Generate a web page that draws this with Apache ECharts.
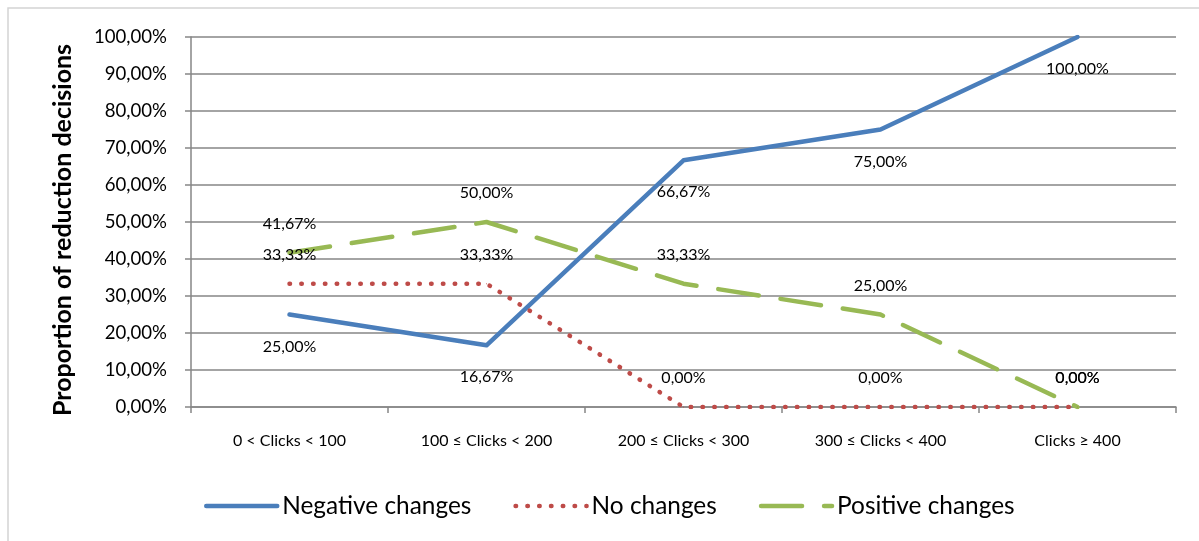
<!DOCTYPE html>
<html>
<head>
<meta charset="utf-8">
<script src="https://cdn.jsdelivr.net/npm/echarts@6/dist/echarts.min.js"></script>
<style>
  html, body { margin: 0; padding: 0; background: #fff; }
  #chart { width: 1199px; height: 541px; }
</style>
</head>
<body>
<div id="chart"></div>
<script>
// Click-range buckets
const categories = ['0 < Clicks < 100', '100 ≤ Clicks < 200', '200 ≤ Clicks < 300', '300 ≤ Clicks < 400', 'Clicks ≥ 400'];

// Share of reduction decisions per bucket (fractions)
const negativeChanges = [0.25, 0.1667, 0.6667, 0.75, 1.0];
const noChanges = [0.3333, 0.3333, 0.0, 0.0, 0.0];
const positiveChanges = [0.4167, 0.50, 0.3333, 0.25, 0.0];

const seriesNames = ['Negative changes', 'No changes', 'Positive changes'];
const axisTitle = 'Proportion of reduction decisions';

const FONT = 'Lato, Carlito, Calibri, sans-serif';
const fmtPct = v => (v * 100).toFixed(2).replace('.', ',') + '%';

const chart = echarts.init(document.getElementById('chart'), null, { renderer: 'canvas' });

function lineSeries(name, data, color, dash, labelDy) {
  return {
    name: name,
    type: 'line',
    data: data,
    symbol: 'circle',
    symbolSize: 1,
    showSymbol: true,
    itemStyle: { color: color },
    lineStyle: { color: color, width: 4.5, type: dash, cap: 'round', join: 'round' },
    emphasis: { disabled: true },
    label: {
      show: true,
      position: 'inside',
      offset: [0, labelDy],
      formatter: p => fmtPct(p.value),
      color: '#000',
      fontFamily: FONT,
      fontSize: 16
    },
    z: 3
  };
}

chart.setOption({
  animation: false,
  backgroundColor: '#fff',
  graphic: [{
    type: 'rect',
    shape: { x: 8, y: 8, width: 1200, height: 560 },
    style: { fill: 'none', stroke: '#d4d4d4', lineWidth: 1.5 },
    silent: true,
    z: -1
  }],
  grid: { left: 191, right: 23, top: 37, bottom: 134, containLabel: false },
  legend: {
    left: 204,
    top: 494,
    padding: 0,
    itemWidth: 71,
    itemHeight: 26,
    itemGap: 42,
    data: seriesNames,
    itemStyle: { color: 'transparent', borderColor: 'transparent', borderWidth: 0 },
    lineStyle: { width: 4.5, cap: 'round' },
    textStyle: { fontFamily: FONT, fontSize: 24.4, color: '#000' },
    selectedMode: false
  },
  xAxis: {
    type: 'category',
    data: categories,
    boundaryGap: true,
    axisLine: { lineStyle: { color: '#868686', width: 1.5 } },
    axisTick: { show: true, length: 6, alignWithLabel: false, lineStyle: { color: '#868686', width: 1.5 } },
    axisLabel: { interval: 0, margin: 26, color: '#000', fontFamily: FONT, fontSize: 16 },
    splitLine: { show: false }
  },
  yAxis: {
    type: 'value',
    min: 0,
    max: 1,
    interval: 0.1,
    name: axisTitle,
    nameLocation: 'middle',
    nameGap: 116,
    nameRotate: 90,
    nameTextStyle: { fontFamily: FONT, fontWeight: 'bold', fontSize: 25, color: '#000', padding: [0, 16, 0, 0] },
    axisLine: { show: true, lineStyle: { color: '#868686', width: 1.5 } },
    axisTick: { show: true, length: 6, lineStyle: { color: '#868686', width: 1.5 } },
    axisLabel: { margin: 24, color: '#000', fontFamily: FONT, fontSize: 18.6, formatter: fmtPct },
    splitLine: { show: true, lineStyle: { color: '#868686', width: 1.5 } }
  },
  series: [
    lineSeries(seriesNames[0], negativeChanges, '#4a7ebb', 'solid', 32),
    lineSeries(seriesNames[1], noChanges, '#be4b48', [0.5, 11.3], -29),
    lineSeries(seriesNames[2], positiveChanges, '#98b954', [41, 22], -29)
  ]
});
</script>
</body>
</html>
